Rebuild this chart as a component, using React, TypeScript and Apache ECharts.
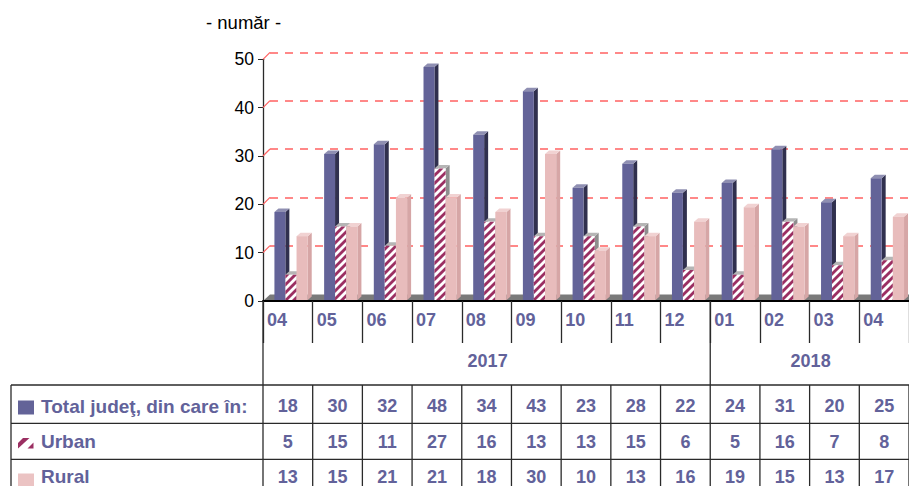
import React, { useEffect, useRef } from 'react';
import * as echarts from 'echarts';

// ---- data ----
const months = ['04', '05', '06', '07', '08', '09', '10', '11', '12', '01', '02', '03', '04'];
const years = [
  { label: '2017', from: 0, to: 8 },
  { label: '2018', from: 9, to: 12 },
];
const total = [18, 30, 32, 48, 34, 43, 23, 28, 22, 24, 31, 20, 25];
const urban = [5, 15, 11, 27, 16, 13, 13, 15, 6, 5, 16, 7, 8];
const rural = [13, 15, 21, 21, 18, 30, 10, 13, 16, 19, 15, 13, 17];
const seriesNames = ['Total judeţ, din care în:', 'Urban', 'Rural'];
const yMin = 0;
const yMax = 50;
const yStep = 10;
const unitLabel = '- număr -';

// ---- styles ----
const FONT = '"Liberation Sans", Arial, sans-serif';
const TXT = '#62629a';
const PAL = [
  { front: '#636398', side: '#30304e', top: '#8f8fb2' },
  { front: '#ffffff', side: '#8e8e8e', top: '#b5b5b5', stripe: '#9b2f62' },
  { front: '#e8bcbc', side: '#d6a6a6', top: '#f1d2d2' },
];
const GRID_LINE = '#ff6262';
const TABLE_LINE = '#2a2a2a';

type P = [number, number];
function clipPoly(poly: P[], f: (p: P) => number): P[] {
  const out: P[] = [];
  for (let i = 0; i < poly.length; i++) {
    const a = poly[i];
    const b = poly[(i + 1) % poly.length];
    const fa = f(a);
    const fb = f(b);
    if (fa >= 0) out.push(a);
    if ((fa >= 0) !== (fb >= 0)) {
      const t = fa / (fa - fb);
      out.push([a[0] + t * (b[0] - a[0]), a[1] + t * (b[1] - a[1])]);
    }
  }
  return out;
}

function stripePolys(x0: number, y0: number, x1: number, y1: number, period: number, w: number): P[][] {
  const rect: P[] = [[x0, y0], [x1, y0], [x1, y1], [x0, y1]];
  const res: P[][] = [];
  const cMin = x0 + y0;
  const cMax = x1 + y1;
  for (let k = Math.floor(cMin / period) - 1; k * period <= cMax; k++) {
    const c1 = k * period;
    const c2 = c1 + w;
    let poly = clipPoly(rect, (p) => p[0] + p[1] - c1);
    poly = clipPoly(poly, (p) => c2 - p[0] - p[1]);
    if (poly.length >= 3) res.push(poly);
  }
  return res;
}

export default function App() {
  const ref = useRef<HTMLDivElement>(null);

  useEffect(() => {
    const chart = echarts.init(ref.current!, null, { renderer: 'svg' });
    const Y0 = 301;
    const YTOP = 59.3;
    const LEFT = 263;
    const DX = 7;
    const DY = 7;

    const data = months.map((m, i) => [i, total[i], urban[i], rural[i]]);

    const renderItem = (params: any, api: any) => {
      const i = api.value(0);
      const base = api.coord([i, 0]);
      const bw = api.size([1, 0])[0];
      const cx = base[0];
      const bottom = base[1] - 1;
      const d = 4;
      const e = 3.5;
      const specs = [
        { v: api.value(1), l: -0.27, r: -0.05, kind: 0 },
        { v: api.value(2), l: -0.05, r: 0.175, kind: 1 },
        { v: api.value(3), l: 0.175, r: 0.4, kind: 2 },
      ];
      const children: any[] = [];
      specs.forEach((s) => {
        const x0 = cx + s.l * bw;
        const x1 = cx + s.r * bw;
        const top = api.coord([i, s.v])[1] - 2;
        const pal: any = PAL[s.kind];
        children.push({
          type: 'polygon',
          shape: { points: [[x1, top], [x1 + d, top - e], [x1 + d, bottom - e], [x1, bottom]] },
          style: { fill: pal.side },
        });
        children.push({
          type: 'polygon',
          shape: { points: [[x0, top], [x0 + d, top - e], [x1 + d, top - e], [x1, top]] },
          style: { fill: pal.top },
        });
        children.push({
          type: 'rect',
          shape: { x: x0, y: top, width: x1 - x0, height: bottom - top },
          style: { fill: pal.front },
        });
        if (s.kind === 1) {
          stripePolys(x0, top, x1, bottom, 8, 4).forEach((pts) => {
            children.push({ type: 'polygon', shape: { points: pts }, style: { fill: pal.stripe } });
          });
        }
      });
      return { type: 'group', children };
    };

    chart.setOption({
      animation: false,
      grid: [
        { left: LEFT, top: YTOP, width: 650, height: Y0 - YTOP },
        { left: LEFT + DX, top: YTOP - DY, width: 650, height: Y0 - YTOP },
      ],
      xAxis: [
        {
          type: 'category',
          gridIndex: 0,
          data: months,
          boundaryGap: true,
          axisLine: { show: true, lineStyle: { color: '#000', width: 2 } },
          axisTick: { show: true, interval: 0, length: 42, lineStyle: { color: TABLE_LINE, width: 1.3 } },
          axisLabel: { show: false },
          splitLine: { show: false },
          z: 6,
        },
        { type: 'value', gridIndex: 1, min: 0, max: 1, show: false },
      ],
      yAxis: [
        {
          type: 'value',
          gridIndex: 0,
          min: yMin,
          max: yMax,
          interval: yStep,
          axisLine: { show: true, lineStyle: { color: TABLE_LINE, width: 1.3 } },
          axisTick: { show: true, length: 5, lineStyle: { color: TABLE_LINE, width: 1 } },
          axisLabel: { color: '#000', fontSize: 17.5, fontFamily: FONT, margin: 9 },
          splitLine: { show: false },
        },
        {
          type: 'value',
          gridIndex: 1,
          min: yMin,
          max: yMax,
          interval: yStep,
          axisLine: { show: false },
          axisTick: { show: false },
          axisLabel: { show: false },
          splitLine: {
            show: true,
            showMinLine: false,
            lineStyle: { color: GRID_LINE, width: 1.6, type: [8, 7] },
          },
        },
      ],
      series: [
        {
          type: 'custom',
          name: seriesNames[0],
          xAxisIndex: 0,
          yAxisIndex: 0,
          data,
          encode: { x: 0, y: [1, 2, 3] },
          renderItem,
          clip: false,
          z: 3,
        },
      ],
    });

    // ---- table & decorations positioned via the chart's own scales ----
    const pt = (i: number, v: number) => chart.convertToPixel({ gridIndex: 0 }, [i, v]) as number[];
    const c0 = pt(0, 0);
    const c1 = pt(1, 0);
    const bw = c1[0] - c0[0];
    const x0 = c0[0] - bw / 2;
    const y0 = c0[1];
    const cellL = (i: number) => pt(i, 0)[0] - bw / 2;
    const cx = (i: number) => pt(i, 0)[0];
    const W = 909;
    const H = 486;
    const rowTop = 385;
    const rowLines = [385, 423.3, 459.3];
    const rowMid = [406, 441.7, 476.7];
    const tableLeft = 11;

    const g: any[] = [];
    // floor
    g.push({
      type: 'polygon',
      z: 1,
      shape: { points: [[x0, y0], [x0 + DX, y0 - 6.5], [W + 20, y0 - 6.5], [W + 20, y0]] },
      style: { fill: '#7a7a7a' },
    });
    // red connectors between front axis ticks and the back wall lines
    for (let v = yMin + yStep; v <= yMax; v += yStep) {
      const p = pt(0, v);
      g.push({
        type: 'line',
        z: 1,
        shape: { x1: x0, y1: p[1], x2: x0 + DX, y2: p[1] - DY },
        style: { stroke: GRID_LINE, lineWidth: 1.2 },
      });
    }
    const line = (x1: number, y1: number, x2: number, y2: number, w = 1.3) =>
      g.push({ type: 'line', z: 7, shape: { x1, y1, x2, y2 }, style: { stroke: TABLE_LINE, lineWidth: w } });

    // vertical axis continued through header and table
    line(x0, y0, x0, H + 2);
    // year separators in header
    years.forEach((yr, k) => {
      if (k > 0) line(cellL(yr.from), y0, cellL(yr.from), rowTop);
    });
    // horizontal table lines
    rowLines.forEach((y) => line(tableLeft, y, W + 2, y));
    line(tableLeft, rowTop, tableLeft, H + 2);
    // column lines in data rows
    for (let i = 1; i <= months.length; i++) line(cellL(i), rowTop, cellL(i), H + 2);

    const txt = (text: string, x: number, y: number, align: string, opts: any = {}) =>
      g.push({
        type: 'text',
        z: 8,
        x,
        y,
        style: {
          text,
          fill: TXT,
          fontSize: 18,
          fontWeight: 'bold',
          fontFamily: FONT,
          align,
          verticalAlign: 'middle',
          ...opts,
        },
      });

    // month labels
    months.forEach((m, i) => txt(m, cellL(i) + 4, 320, 'left'));
    // year labels
    years.forEach((yr) => {
      const l = cellL(yr.from);
      const r = cellL(yr.to + 1);
      txt(yr.label, (l + r) / 2 + 1, 360.7, 'center');
    });
    // row labels
    seriesNames.forEach((n, k) => txt(n, 41, rowMid[k], 'left', { fontSize: 19 }));
    // values
    [total, urban, rural].forEach((arr, k) => {
      arr.forEach((v, i) => txt(String(v), cx(i), rowMid[k], 'center'));
    });
    // legend icons
    g.push({ type: 'rect', z: 8, shape: { x: 18, y: 400.5, width: 16, height: 14 }, style: { fill: PAL[0].front } });
    g.push({
      type: 'polygon',
      z: 8,
      shape: { points: [[18, 448.5], [18, 443], [23, 438], [29.5, 438]] },
      style: { fill: PAL[1].stripe },
    });
    g.push({
      type: 'polygon',
      z: 8,
      shape: { points: [[27.5, 448.5], [33.5, 442.5], [33.5, 448.5]] },
      style: { fill: PAL[1].stripe },
    });
    g.push({ type: 'rect', z: 8, shape: { x: 18, y: 473.5, width: 16, height: 14 }, style: { fill: '#ebc3c3' } });
    // unit label
    g.push({
      type: 'text',
      z: 8,
      x: 206,
      y: 22,
      style: { text: unitLabel, fill: '#000', fontSize: 18.5, fontFamily: FONT, align: 'left', verticalAlign: 'middle' },
    });

    chart.setOption({ graphic: { elements: g } });

    return () => chart.dispose();
  }, []);

  return (
    <div
      ref={ref}
      style={{ position: 'fixed', left: 0, top: 0, width: 909, height: 486, background: '#fff' }}
    />
  );
}
